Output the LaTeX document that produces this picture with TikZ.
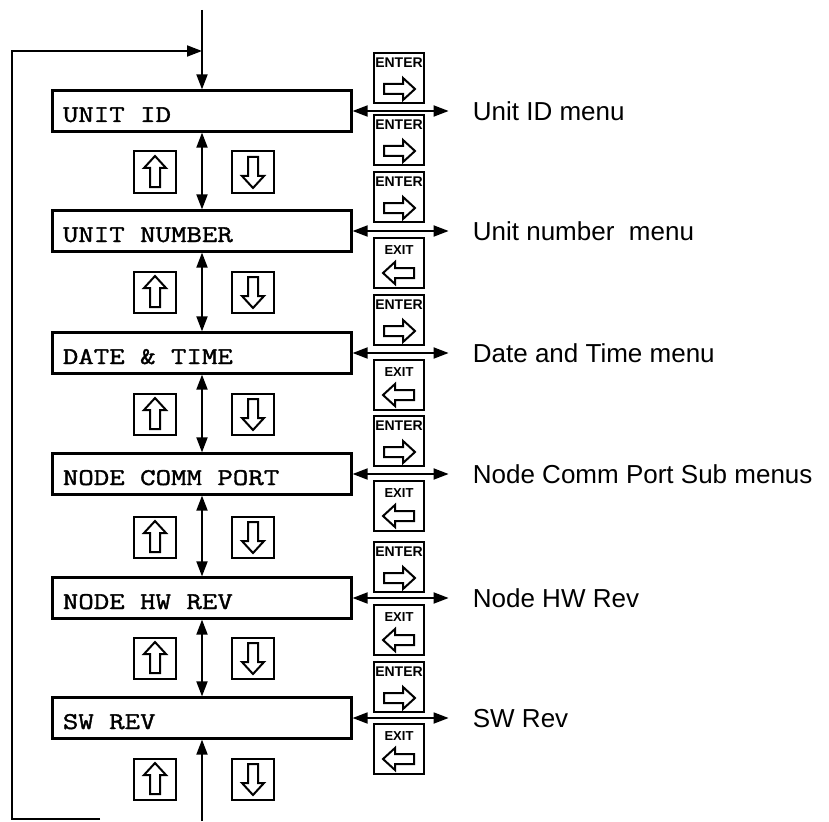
\documentclass[tikz,border=0pt]{standalone}
\usepackage{fontspec}
\setmainfont{Liberation Sans}
\newfontfamily\lcdfont[FakeStretch=1.25, FakeBold=1.5]{Latin Modern Mono}
\usetikzlibrary{arrows.meta}

\begin{document}
\begin{tikzpicture}[
x=1pt, y=-1pt,
line width=1.8pt,
tip/.style={-{Triangle[length=15pt,width=11pt]}},
both/.style={{Triangle[length=15pt,width=11pt]}-{Triangle[length=15pt,width=11pt]}},
display/.style={draw, line width=2.2pt, minimum width=299pt, minimum height=41pt, inner sep=0pt},
lcd/.style={font=\lcdfont\fontsize{24}{24}\selectfont, inner sep=0pt, anchor=base west},
key/.style={draw, line width=2pt, minimum width=50pt, minimum height=50pt, inner sep=0pt},
updown/.style={draw, line width=2pt, minimum width=42pt, minimum height=41pt, inner sep=0pt},
keyname/.style={font=\bfseries\fontsize{14}{14}\selectfont, inner sep=0pt, anchor=north},
menu/.style={font=\fontsize{26}{26}\selectfont, inner sep=0pt, anchor=base west},
hollow/.pic={\draw[line width=2pt, fill=white, line join=miter]
  (-15,-5) -- (4,-5) -- (4,-11) -- (16,0) -- (4,11) -- (4,5) -- (-15,5) -- cycle;},
enterkey/.pic={\node[key] (-box) {};
  \node[keyname] at ([yshift=-5pt]-box.north) {ENTER};
  \pic at (0,11) {hollow};},
exitkey/.pic={\node[key] (-box) {};
  \node[keyname, font=\bfseries\fontsize{13}{13}\selectfont] at ([yshift=-8pt]-box.north) {EXIT};
  \pic[rotate=180] at (0,10) {hollow};},
upkey/.pic={\node[updown] (-box) {}; \pic[rotate=90] {hollow};},
downkey/.pic={\node[updown] (-box) {}; \pic[rotate=-90] {hollow};}
]
\useasboundingbox (0,0) rectangle (829,821);

% menu displays
\node[display] (unitid) at (202,111) {};
\node[lcd] (unitid-t) at (62,122) {UNIT ID};
\node[display] (unitnum) at (202,231) {};
\node[lcd] (unitnum-t) at (62,242) {UNIT NUMBER};
\node[display] (datetime) at (202,353) {};
\node[lcd] (datetime-t) at (62,364) {DATE \& TIME};
\node[display] (commport) at (202,474) {};
\node[lcd] (commport-t) at (62,485) {NODE COMM PORT};
\node[display] (hwrev) at (202,598) {};
\node[lcd] (hwrev-t) at (62,609) {NODE HW REV};
\node[display] (swrev) at (202,718) {};
\node[lcd] (swrev-t) at (62,729) {SW REV};

% scroll keys
\pic (up1) at (155,172) {upkey};   \pic (down1) at (253,172) {downkey};
\pic (up2) at (155,292) {upkey};   \pic (down2) at (253,292) {downkey};
\pic (up3) at (155,414) {upkey};   \pic (down3) at (253,414) {downkey};
\pic (up4) at (155,537) {upkey};   \pic (down4) at (253,537) {downkey};
\pic (up5) at (155,658) {upkey};   \pic (down5) at (253,658) {downkey};
\pic (up6) at (155,779) {upkey};   \pic (down6) at (253,779) {downkey};

% enter / exit keys
\pic (enter1a) at (399,78) {enterkey};
\pic (enter1b) at (399,140) {enterkey};
\pic (enter2) at (399,197) {enterkey};
\pic (exit2) at (399,263) {exitkey};
\pic (enter3) at (399,320) {enterkey};
\pic (exit3) at (399,385) {exitkey};
\pic (enter4) at (399,441) {enterkey};
\pic (exit4) at (399,506) {exitkey};
\pic (enter5) at (399,567) {enterkey};
\pic (exit5) at (399,630) {exitkey};
\pic (enter6) at (399,687) {enterkey};
\pic (exit6) at (399,749) {exitkey};

% sub menus
\node[menu] (m1) at (472,120.5) {Unit ID menu};
\node[menu] (m2) at (472,240.5) {Unit number~~menu};
\node[menu] (m3) at (472,362.5) {Date and Time menu};
\node[menu] (m4) at (472,483.5) {Node Comm Port Sub menus};
\node[menu] (m5) at (472,607.5) {Node HW Rev};
\node[menu] (m6) at (472,727.5) {SW Rev};

% loop
\coordinate (entry) at (202,10);
\coordinate (joint) at (202,51);
\coordinate (bend-tl) at (12,51);
\coordinate (bend-bl) at (12,819);
\coordinate (tail) at (100,819);
\coordinate (leave) at (202,821);
\draw (entry) -- (joint);
\draw[tip] (joint) -- (unitid.north);
\draw[tip, line join=miter] (tail) -- (bend-bl) -- (bend-tl) -- (joint);
\draw[both] (unitid.south) -- (unitnum.north);
\draw[both] (unitnum.south) -- (datetime.north);
\draw[both] (datetime.south) -- (commport.north);
\draw[both] (commport.south) -- (hwrev.north);
\draw[both] (hwrev.south) -- (swrev.north);
\draw[tip] (leave) -- (swrev.south);

\draw[both] (unitid.east) -- ([xshift=96pt]unitid.east);
\draw[both] (unitnum.east) -- ([xshift=96pt]unitnum.east);
\draw[both] (datetime.east) -- ([xshift=96pt]datetime.east);
\draw[both] (commport.east) -- ([xshift=96pt]commport.east);
\draw[both] (hwrev.east) -- ([xshift=96pt]hwrev.east);
\draw[both] (swrev.east) -- ([xshift=96pt]swrev.east);
\end{tikzpicture}
\end{document}
